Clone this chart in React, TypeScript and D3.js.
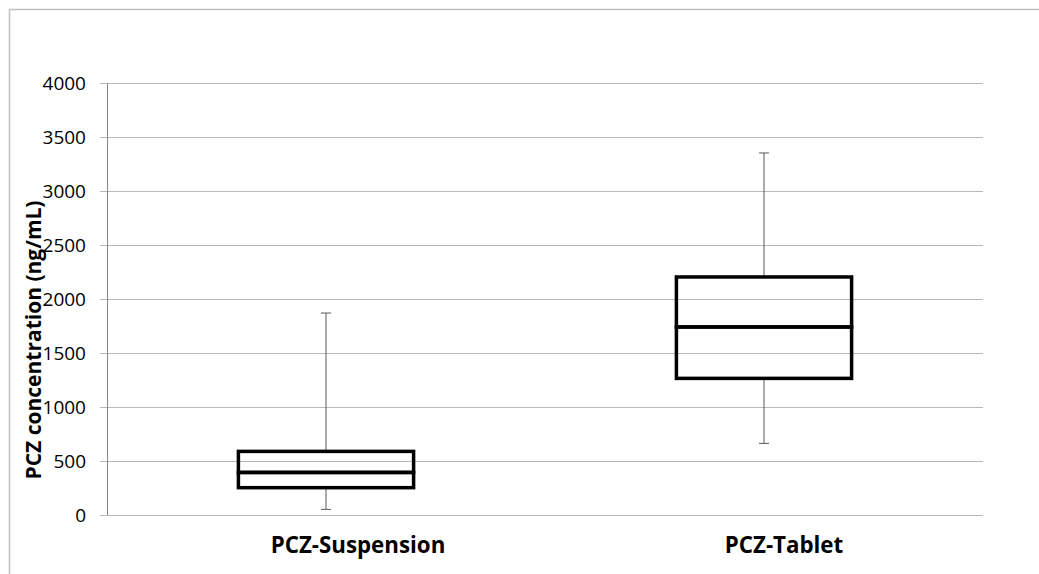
import { useEffect, useRef } from "react";
import * as d3 from "d3";

// box plot values (ng/mL)
const categories = ["PCZ-Suspension", "PCZ-Tablet"];
const whiskerLow = [52, 663];
const q1 = [253, 1265];
const median = [394, 1741];
const q3 = [589, 2204];
const whiskerHigh = [1870, 3352];
const yTicks = [0, 500, 1000, 1500, 2000, 2500, 3000, 3500, 4000];
// category labels in the original sit a bit right of the band centre
const labelShift = [32, 20];

const App = () => {
  const svgRef = useRef<SVGSVGElement>(null);

  const width = 1039;
  const height = 574;
  const margin = { top: 83, right: 56, bottom: 59, left: 107 };

  useEffect(() => {
    const svg = d3.select(svgRef.current);
    svg.selectAll("*").remove();

    const font = "'Open Sans', Lato, sans-serif";

    // outer chart border (clipped at right/bottom like the original)
    svg
      .append("rect")
      .attr("x", 9.5)
      .attr("y", 9.5)
      .attr("width", width + 20)
      .attr("height", height + 20)
      .attr("fill", "#fff")
      .attr("stroke", "#bfbfbf")
      .attr("stroke-width", 1.5);

    // setup scaling
    const xScale = d3
      .scaleBand()
      .domain(categories)
      .range([margin.left, width - margin.right]);
    const yScale = d3
      .scaleLinear()
      .domain([0, 4000])
      .range([height - margin.bottom, margin.top]);

    // gridlines
    svg
      .append("g")
      .attr("transform", `translate(${margin.left}, 0)`)
      .call(
        d3
          .axisLeft(yScale)
          .tickValues(yTicks)
          .tickSize(-(width - margin.right - margin.left))
          .tickFormat(() => "")
      )
      .call((g) => g.select(".domain").remove())
      .call((g) => g.selectAll("line").attr("stroke", "#b8b8b8"));

    // y axis with outer ticks and labels
    svg
      .append("g")
      .attr("transform", `translate(${margin.left}, 0)`)
      .call(
        d3
          .axisLeft(yScale)
          .tickValues(yTicks)
          .tickFormat(d3.format("d"))
          .tickSize(7)
          .tickPadding(14)
      )
      .call((g) => g.select(".domain").remove())
      .call((g) => g.selectAll("line").attr("stroke", "#b8b8b8"))
      .call((g) =>
        g
          .selectAll("text")
          .attr("font-family", font)
          .attr("font-size", 19)
          .attr("fill", "#000")
      );

    svg
      .append("line")
      .attr("x1", margin.left + 0.5)
      .attr("x2", margin.left + 0.5)
      .attr("y1", yScale(4000))
      .attr("y2", yScale(0))
      .attr("stroke", "#868686");

    // boxes
    const boxW = xScale.bandwidth() * 0.4;
    const capW = 10;

    categories.forEach((c, i) => {
      const cx = xScale(c) + xScale.bandwidth() / 2;
      const g = svg.append("g");

      // whiskers
      [
        [whiskerLow[i], q1[i]],
        [q3[i], whiskerHigh[i]],
      ].forEach(([a, b]) => {
        g.append("line")
          .attr("x1", cx)
          .attr("x2", cx)
          .attr("y1", yScale(a))
          .attr("y2", yScale(b))
          .attr("stroke", "#595959")
          .attr("stroke-width", 1);
      });
      [whiskerLow[i], whiskerHigh[i]].forEach((v) => {
        g.append("line")
          .attr("x1", cx - capW / 2)
          .attr("x2", cx + capW / 2)
          .attr("y1", yScale(v))
          .attr("y2", yScale(v))
          .attr("stroke", "#595959")
          .attr("stroke-width", 1);
      });

      // lower and upper box halves
      [
        [q1[i], median[i]],
        [median[i], q3[i]],
      ].forEach(([a, b]) => {
        g.append("rect")
          .attr("x", cx - boxW / 2)
          .attr("y", yScale(b))
          .attr("width", boxW)
          .attr("height", yScale(a) - yScale(b))
          .attr("fill", "none")
          .attr("stroke", "#000")
          .attr("stroke-width", 3.5);
      });
    });

    // category labels
    svg
      .append("g")
      .selectAll("text")
      .data(categories)
      .join("text")
      .attr("x", (d, i) => xScale(d) + xScale.bandwidth() / 2 + labelShift[i])
      .attr("y", 553)
      .attr("text-anchor", "middle")
      .attr("font-family", font)
      .attr("font-weight", "bold")
      .attr("font-size", 22.3)
      .attr("fill", "#000")
      .text((d) => d);

    // y axis title
    svg
      .append("text")
      .attr("transform", `translate(41, 340) rotate(-90)`)
      .attr("text-anchor", "middle")
      .attr("font-family", font)
      .attr("font-weight", "bold")
      .attr("font-size", 21)
      .attr("fill", "#000")
      .text("PCZ concentration (ng/mL)");
  }, []);

  return (
    <svg
      ref={svgRef}
      width={width}
      height={height}
      style={{ position: "absolute", left: 0, top: 0, background: "#fff" }}
    />
  );
};

export default App;
